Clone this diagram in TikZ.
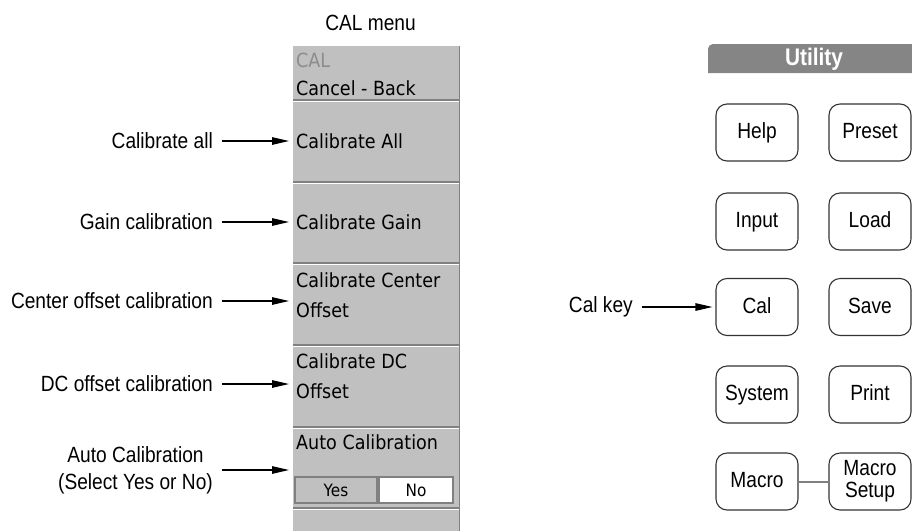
\documentclass[tikz,border=0pt]{standalone}
\usepackage{fontspec}
\setmainfont{Liberation Sans}
\newfontfamily\narrowfont[FakeStretch=0.87]{Liberation Sans}
\newfontfamily\menufont[FakeStretch=0.9]{DejaVu Sans}
\usetikzlibrary{arrows.meta,positioning}
\definecolor{menugray}{HTML}{C0C0C0}
\definecolor{bevelgray}{HTML}{808080}
\definecolor{utilgray}{HTML}{858585}
\definecolor{capgray}{HTML}{8C8C8C}

\begin{document}
\begin{tikzpicture}[x=1pt,y=-1pt,
  callout/.style={font=\narrowfont\fontsize{22}{27}\selectfont, inner sep=0, align=center},
  menuitem/.style={font=\menufont\fontsize{19.5}{30}\selectfont, inner sep=0, anchor=west, align=left},
  choice/.style={draw=bevelgray, line width=1.2, minimum height=26, inner sep=0, font=\menufont\fontsize{17}{20}\selectfont},
  padkey/.style={draw=black!80, line width=1.1, rounded corners=11pt, minimum width=82pt, minimum height=57pt, inner sep=0, font=\narrowfont\fontsize{22}{22}\selectfont, align=center},
  pointer/.style={-{Triangle[length=17pt,width=7.5pt]}, line width=1.2pt}]

  \useasboundingbox (0,0) rectangle (912,531);

  % CAL menu
  \node[fill=menugray, anchor=north west, minimum width=166, minimum height=485, inner sep=0] (panel) at (293,46) {};
  \draw[bevelgray, line width=1.5] (panel.north east) -- (panel.south east);
  \foreach \y in {100,182,263,345,427,508} {
    \draw[bevelgray, line width=1.2] (293,\y) -- (459,\y);
    \draw[white, line width=1.2] (293,\y+1.5) -- (459,\y+1.5);
  }

  \node[callout] (title) at (370.5,23) {CAL menu};
  \node[menuitem, text=capgray] (mcal) at (296,60) {CAL};
  \node[menuitem] (mback) at (296,88) {Cancel - Back};
  \node[menuitem] (mall) at (296,141) {Calibrate All};
  \node[menuitem] (mgain) at (296,222) {Calibrate Gain};
  \node[menuitem] (mcenter) at (296,295) {Calibrate Center\\Offset};
  \node[menuitem] (mdc) at (296,376.5) {Calibrate DC\\Offset};
  \node[menuitem] (mauto) at (296,442) {Auto Calibration};
  \node[choice, fill=menugray, minimum width=82] (yes) at (336,490) {Yes};
  \node[choice, fill=white, minimum width=74] (no) at (416,490) {No};

  \node[callout, anchor=east] (lall) at (213,141) {Calibrate all};
  \node[callout, anchor=east] (lgain) at (213,222) {Gain calibration};
  \node[callout, anchor=east] (lcenter) at (213,301) {Center offset calibration};
  \node[callout, anchor=east] (ldc) at (213,384) {DC offset calibration};
  \node[callout, anchor=east] (lauto) at (213,470) {Auto Calibration\\(Select Yes or No)};

  \foreach \l in {lall,lgain,lcenter,ldc,lauto}
    \draw[pointer, shorten >=4pt] ([xshift=9pt]\l.east) -- (\l.east -| panel.west);

  % Utility keys
  \fill[utilgray] (912,73) -- (708,73) [rounded corners=5pt] -- (708,44) [sharp corners] -- (912,44) -- cycle;
  \node[font=\narrowfont\bfseries\fontsize{24}{24}\selectfont, text=white, inner sep=0] (utility) at (814,59) {Utility};

  \foreach \nm/\txt/\x/\y in {help/Help/757/132.5, preset/Preset/870/132.5,
      input/Input/757/221.5, load/Load/870/221.5, cal/Cal/757/307, save/Save/870/307,
      system/System/757/394.5, print/Print/870/394.5, macro/Macro/757/481.5}
    \node[padkey, text height=16pt, text depth=4pt] (\nm) at (\x,\y) {\txt};
  \node[padkey] (macrosetup) at (870,481.5) {Macro\\Setup};

  \draw[bevelgray, line width=2pt] (macro) -- (macrosetup);

  \node[callout, anchor=east] (lcal) at (633,307) {Cal key};
  \draw[pointer, shorten >=3pt] ([xshift=9pt]lcal.east) -- (cal);

\end{tikzpicture}
\end{document}
